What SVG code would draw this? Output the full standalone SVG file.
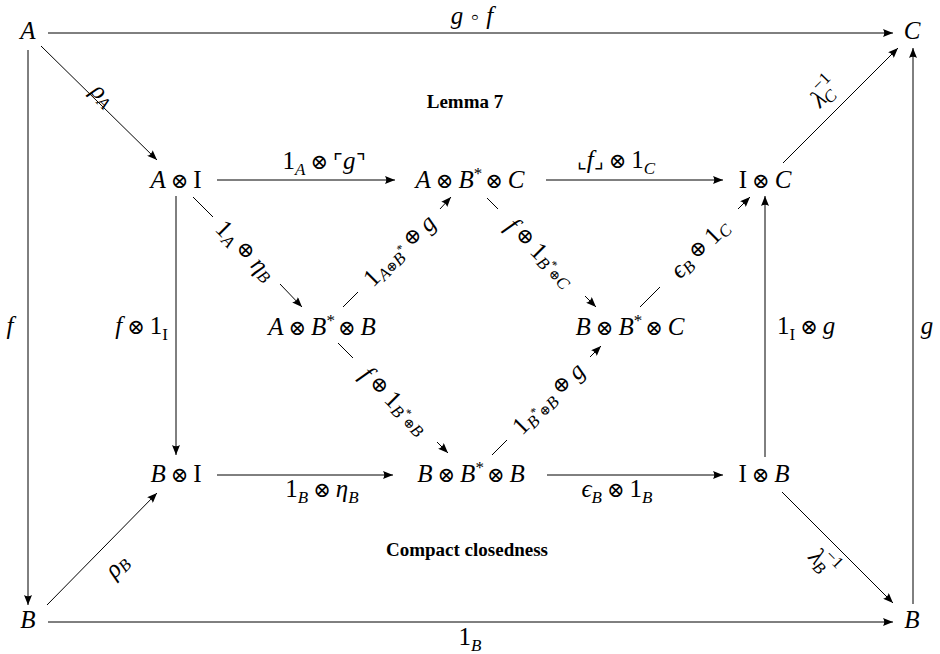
<svg xmlns="http://www.w3.org/2000/svg" width="940" height="654" viewBox="0 0 940 654">
<style>
.m{font-family:"Liberation Serif","DejaVu Serif",serif;font-size:25px;fill:#000}
.i{font-style:italic}
.o{font-family:"DejaVu Sans","DejaVu Serif",sans-serif;font-weight:200;font-size:21px;font-style:normal}
.s{font-size:17px}
.ss{font-size:12px}
.so{font-family:"DejaVu Sans","DejaVu Serif",sans-serif;font-weight:200;font-size:13px;font-style:normal}
.b{font-family:"Liberation Serif","DejaVu Serif",serif;font-size:19px;font-weight:bold;fill:#000}
.c path{fill:none;stroke:#000;stroke-width:1}
.c path.a{marker-end:url(#ah)}
</style>
<defs>
<marker id="ah" viewBox="0 0 10 8" refX="10" refY="4" markerWidth="10" markerHeight="8" markerUnits="userSpaceOnUse" orient="auto">
<path d="M0,0 L10,4 L0,8 Q2.5,4 0,0 z" fill="#000"/>
</marker>
</defs>
<rect width="940" height="654" fill="#fff"/>

<g class="c" id="connectors">
<path class="a" d="M48,33 H893"/>
<path class="a" d="M28,50 V605"/>
<path class="a" d="M913,604 V48"/>
<path class="a" d="M48,622 H893"/>
<path class="a" d="M41,46 L157,160"/>
<path class="a" d="M47,605 L157,493"/>
<path class="a" d="M783,163 L898,48"/>
<path class="a" d="M782,492 L893,603"/>
<path class="a" d="M217,180 H395"/>
<path class="a" d="M546,180 H723"/>
<path class="a" d="M217,475 H393"/>
<path class="a" d="M547,475 H723"/>
<path class="a" d="M176,196 V455"/>
<path class="a" d="M765,457 V196"/>
<path d="M193,197 L213,217"/><path class="a" d="M280,284 L302,307"/>
<path d="M343,307 L358,292"/><path class="a" d="M440,209 L451,197"/>
<path d="M487,198 L498,209"/><path class="a" d="M585,296 L596,307"/>
<path d="M640,307 L660,287"/><path class="a" d="M738,209 L750,197"/>
<path d="M338,343 L353,358"/><path class="a" d="M437,442 L448,453"/>
<path d="M492,455 L507,440"/><path class="a" d="M590,357 L601,346"/>
</g>

<g id="labels">
<text class="m" x="472" y="24" text-anchor="middle"><tspan class="i">g</tspan><tspan class="o" dx="5">∘</tspan><tspan class="i" dx="5">f</tspan></text>
<text class="m" x="470" y="645" text-anchor="middle">1<tspan class="s i" dy="6">B</tspan></text>
<text class="m i" x="10" y="334" text-anchor="middle">f</text>
<text class="m i" x="927" y="334" text-anchor="middle">g</text>
<text class="m" x="168" y="334" text-anchor="end"><tspan class="i">f</tspan><tspan class="o" dx="5">⊗</tspan><tspan dx="5">1</tspan><tspan class="s" dy="6">I</tspan></text>
<text class="m" x="777" y="334">1<tspan class="s" dy="6">I</tspan><tspan class="o" dy="-6" dx="5">⊗</tspan><tspan class="i" dx="5">g</tspan></text>
<text class="m" x="324" y="169" text-anchor="middle">1<tspan class="s i" dy="6">A</tspan><tspan class="o" dy="-6" dx="5">⊗</tspan><tspan class="o" dx="5">⌜</tspan><tspan class="i">g</tspan><tspan class="o">⌝</tspan></text>
<text class="m" x="616" y="168" text-anchor="middle"><tspan class="o">⌞</tspan><tspan class="i">f</tspan><tspan class="o">⌟</tspan><tspan class="o" dx="5">⊗</tspan><tspan dx="5">1</tspan><tspan class="s i" dy="6">C</tspan></text>
<text class="m" x="322" y="497" text-anchor="middle">1<tspan class="s i" dy="6">B</tspan><tspan class="o" dy="-6" dx="5">⊗</tspan><tspan class="i" dx="5">η</tspan><tspan class="s i" dy="6">B</tspan></text>
<text class="m" x="617" y="497" text-anchor="middle"><tspan class="i">ϵ</tspan><tspan class="s i" dy="6">B</tspan><tspan class="o" dy="-6" dx="5">⊗</tspan><tspan dx="5">1</tspan><tspan class="s i" dy="6">B</tspan></text>
<text class="m" x="104" y="94" text-anchor="middle" dominant-baseline="central" transform="rotate(45 104 94)"><tspan class="i">ρ</tspan><tspan class="s i" dy="6">A</tspan></text>
<text class="m" x="116" y="565" text-anchor="middle" dominant-baseline="central" transform="rotate(-45 116 565)"><tspan class="i">ρ</tspan><tspan class="s i" dy="6">B</tspan></text>
<text class="m" x="824" y="92" text-anchor="middle" dominant-baseline="central" transform="rotate(-45 824 92)"><tspan class="i">λ</tspan><tspan class="s" dy="-10">−1</tspan><tspan class="s i" dy="17" dx="-19">C</tspan></text>
<text class="m" x="824" y="562" text-anchor="middle" dominant-baseline="central" transform="rotate(45 824 562)"><tspan class="i">λ</tspan><tspan class="s" dy="-10">−1</tspan><tspan class="s i" dy="17" dx="-19">B</tspan></text>
<text class="m" x="246" y="250" text-anchor="middle" dominant-baseline="central" transform="rotate(45 246 250)">1<tspan class="s i" dy="6">A</tspan><tspan class="o" dy="-6" dx="5">⊕</tspan><tspan class="i" dx="5">η</tspan><tspan class="s i" dy="6">B</tspan></text>
<text class="m" x="399" y="250" text-anchor="middle" dominant-baseline="central" transform="rotate(-45 399 250)">1<tspan class="s i" dy="6">A</tspan><tspan class="so">⊕</tspan><tspan class="s i">B</tspan><tspan class="ss" dy="-6">*</tspan><tspan class="o" dx="5">⊕</tspan><tspan class="i" dx="5">g</tspan></text>
<text class="m" x="541" y="252" text-anchor="middle" dominant-baseline="central" transform="rotate(45 541 252)"><tspan class="i">f</tspan><tspan class="o" dx="5">⊕</tspan><tspan dx="5">1</tspan><tspan class="s i" dy="6">B</tspan><tspan class="ss" dy="-6">*</tspan><tspan class="so" dy="6">⊕</tspan><tspan class="s i">C</tspan></text>
<text class="m" x="699" y="248" text-anchor="middle" dominant-baseline="central" transform="rotate(-45 699 248)"><tspan class="i">ϵ</tspan><tspan class="s i" dy="6">B</tspan><tspan class="o" dy="-6" dx="5">⊕</tspan><tspan dx="5">1</tspan><tspan class="s i" dy="6">C</tspan></text>
<text class="m" x="395" y="400" text-anchor="middle" dominant-baseline="central" transform="rotate(45 395 400)"><tspan class="i">f</tspan><tspan class="o" dx="5">⊕</tspan><tspan dx="5">1</tspan><tspan class="s i" dy="6">B</tspan><tspan class="ss" dy="-6">*</tspan><tspan class="so" dy="6">⊕</tspan><tspan class="s i">B</tspan></text>
<text class="m" x="548" y="398" text-anchor="middle" dominant-baseline="central" transform="rotate(-45 548 398)">1<tspan class="s i" dy="6">B</tspan><tspan class="ss" dy="-6">*</tspan><tspan class="so" dy="6">⊕</tspan><tspan class="s i">B</tspan><tspan class="o" dy="-6" dx="5">⊕</tspan><tspan class="i" dx="5">g</tspan></text>
<text class="b" x="465" y="108" text-anchor="middle">Lemma 7</text>
<text class="b" x="467" y="556" text-anchor="middle">Compact closedness</text>
</g>

<g id="n-A"><text class="m i" x="28" y="39" text-anchor="middle">A</text></g>
<g id="n-C"><text class="m i" x="912" y="39" text-anchor="middle">C</text></g>
<g id="n-B1"><text class="m i" x="28" y="628" text-anchor="middle">B</text></g>
<g id="n-B2"><text class="m i" x="912" y="628" text-anchor="middle">B</text></g>
<g id="n-AI"><text class="m" x="176" y="188" text-anchor="middle"><tspan class="i">A</tspan><tspan class="o" dx="5">⊗</tspan><tspan dx="5">I</tspan></text></g>
<g id="n-ABC"><text class="m" x="470" y="188" text-anchor="middle"><tspan class="i">A</tspan><tspan class="o" dx="5">⊗</tspan><tspan class="i" dx="5">B</tspan><tspan class="s" dy="-9">*</tspan><tspan class="o" dy="9" dx="3">⊗</tspan><tspan class="i" dx="5">C</tspan></text></g>
<g id="n-IC"><text class="m" x="765" y="188" text-anchor="middle">I<tspan class="o" dx="5">⊗</tspan><tspan class="i" dx="5">C</tspan></text></g>
<g id="n-ABB"><text class="m" x="322" y="335" text-anchor="middle"><tspan class="i">A</tspan><tspan class="o" dx="5">⊗</tspan><tspan class="i" dx="5">B</tspan><tspan class="s" dy="-9">*</tspan><tspan class="o" dy="9" dx="3">⊗</tspan><tspan class="i" dx="5">B</tspan></text></g>
<g id="n-BBC"><text class="m" x="630" y="335" text-anchor="middle"><tspan class="i">B</tspan><tspan class="o" dx="5">⊗</tspan><tspan class="i" dx="5">B</tspan><tspan class="s" dy="-9">*</tspan><tspan class="o" dy="9" dx="3">⊗</tspan><tspan class="i" dx="5">C</tspan></text></g>
<g id="n-BI"><text class="m" x="176" y="482" text-anchor="middle"><tspan class="i">B</tspan><tspan class="o" dx="5">⊗</tspan><tspan dx="5">I</tspan></text></g>
<g id="n-BBB"><text class="m" x="471" y="482" text-anchor="middle"><tspan class="i">B</tspan><tspan class="o" dx="5">⊗</tspan><tspan class="i" dx="5">B</tspan><tspan class="s" dy="-9">*</tspan><tspan class="o" dy="9" dx="3">⊗</tspan><tspan class="i" dx="5">B</tspan></text></g>
<g id="n-IB"><text class="m" x="764" y="482" text-anchor="middle">I<tspan class="o" dx="5">⊗</tspan><tspan class="i" dx="5">B</tspan></text></g>
</svg>
